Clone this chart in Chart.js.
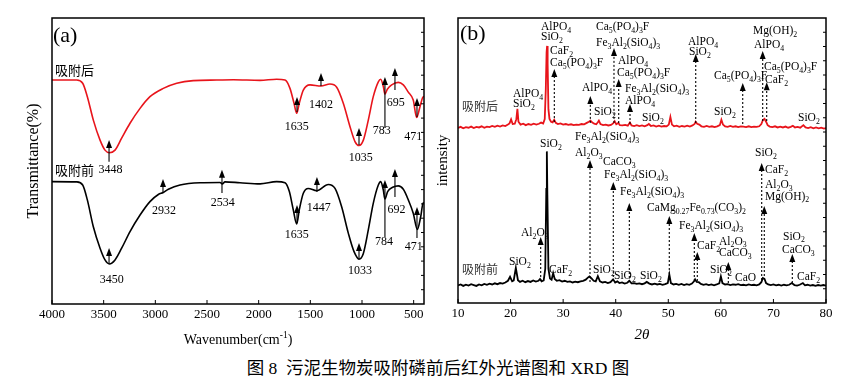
<!DOCTYPE html>
<html><head><meta charset="utf-8">
<script src="https://cdn.jsdelivr.net/npm/chart.js@4.4.1/dist/chart.umd.min.js"></script>
<style>
body{margin:0;background:#fff;width:867px;height:380px;overflow:hidden;position:relative;}
#ca{position:absolute;left:0;top:0;}
#cb{position:absolute;left:430px;top:0;}
#cap{position:absolute;left:0;width:876px;top:357px;text-align:center;font:17.5px "Liberation Serif","Noto Sans CJK SC";color:#000;line-height:22px;}
</style></head><body>
<canvas id="ca" width="440" height="350"></canvas>
<canvas id="cb" width="437" height="350"></canvas>
<div id="cap">图 8&nbsp; 污泥生物炭吸附磷前后红外光谱图和 XRD 图</div>
<script>
// ---------- FTIR (a) ----------
const ftirTicks = [4000,3500,3000,2500,2000,1500,1000,500];
const ftirAfterWn = [4000,3761,3703,3658,3600,3535,3487,3445,3390,3326,3245,3148,3052,2923,2793,2633,2406,2245,1987,1826,1745,1697,1658,1632,1607,1568,1503,1397,1310,1245,1181,1116,1068,1029,987,939,891,842,819,794,778,755,713,649,600,552,504,471,439,413,400];
const ftirAfterT  = [78.3,78.3,77.2,72.5,64.3,57.3,53.8,52.9,53.8,58,63.2,68.4,72.5,75.4,77.2,78.1,78.3,78.4,78.2,78.6,78.3,75.4,70.2,66.7,70.2,74.8,76.6,76.2,76.9,75.8,70.2,62,56.8,55.4,57.3,64.3,72.5,77.7,78.6,76.1,73.4,75.1,76.6,77.5,76.6,74.1,71.3,65.2,69,72.2,72.6];
const ftirBeforeWn = [4000,3761,3703,3658,3600,3535,3487,3445,3390,3326,3245,3148,3052,2971,2923,2874,2761,2568,2374,2352,2326,2181,1987,1826,1745,1703,1665,1632,1607,1568,1520,1439,1326,1261,1197,1132,1077,1029,987,939,891,842,819,794,778,752,703,649,600,552,504,465,432,410,400];
const ftirBeforeT  = [42.8,42.7,41.6,36.4,27,19.5,15.4,14,15.4,19.5,25.3,31.1,35.8,38.3,39,40.1,41.6,42.4,42.5,42,42.7,42.4,42,42.8,42.4,39.3,32.9,28,32.9,38.7,40.4,39.6,41.8,40.4,34,24.7,18.3,15.7,17.7,25.9,35.2,41.6,42.8,39.9,36.7,39.3,40.8,41.3,40.1,36.4,31.7,26.1,30.5,35.2,35.4];
// arrows: [wavenumber, base T, tip T]
const ftirArrowsAfter = [[3448,49.7,57.3],[1629,67.1,72.4],[1397,76.2,80.8],[1029,55.6,61.5],[778,61.5,79.4],[681,74.8,82.5],[468,65.4,72]];
const ftirArrowsBefore = [[3448,14,19.6],[2926,38.8,43.7],[2355,38.8,46.9],[1629,28.3,34.6],[1436,39.2,44.4],[1029,16.1,21.3],[778,23.4,43.4],[681,37.4,47.2],[468,23.1,33.9]];
// labels: [text, wavenumber (centre), T]
const ftirLabelsAfter = [["3448",3434,46.9],["1635",1632,61.9],["1402",1397,69.6],["1035",1013,51.0],["783",810,60.5],["695",673,70.3],["471",504,58.4]];
const ftirLabelsBefore = [["3450",3422,8.4],["2932",2916,32.5],["2534",2348,35.3],["1635",1632,24.1],["1447",1419,33.6],["1033",1019,11.5],["784",787,21.7],["692",665,32.9],["471",499,19.9]];

// ---------- XRD (b) ----------
const xrdTicks = [10,20,30,40,50,60,70,80];
const xrdBefore = [[10,6.2],[10.5,6.5],[11,6.0],[11.5,6.4],[12,6.1],[12.5,6.6],[13,6.3],[13.5,6.0],[14,6.5],[14.5,6.2],[15,6.7],[15.5,6.4],[16,6.8],[16.5,6.5],[17,6.9],[17.5,6.6],[18,7.0],[18.5,6.8],[19,7.2],[19.5,7.8],[19.9,9.2],[20.3,7.6],[20.6,7.9],[21.0,12.3],[21.4,8.0],[21.8,7.4],[22.3,7.8],[22.8,7.3],[23.3,7.7],[23.8,7.4],[24.3,7.9],[24.8,7.5],[25.3,7.8],[25.6,8.4],[25.9,7.6],[26.3,7.9],[26.6,12],[26.8,40],[26.9,53.2],[27.0,38],[27.2,12],[27.5,8.6],[27.8,8.2],[28.1,10.5],[28.4,8.4],[28.8,7.8],[29.3,8.0],[29.8,7.5],[30.3,7.8],[30.8,7.4],[31.3,7.6],[31.8,7.2],[32.3,7.5],[32.8,7.3],[33.3,7.6],[33.8,7.8],[34.3,8.2],[34.7,8.9],[35.0,9.3],[35.4,8.6],[35.8,7.8],[36.2,7.6],[36.6,9.4],[37.0,7.6],[37.5,7.2],[38.0,7.4],[38.5,7.0],[39.0,7.3],[39.5,8.3],[39.9,7.2],[40.3,7.6],[40.7,7.0],[41.2,7.2],[41.7,6.8],[42.2,7.1],[42.6,7.8],[43.0,6.9],[43.5,7.0],[44.0,6.7],[44.5,6.9],[45.0,6.6],[45.5,6.9],[45.9,7.4],[46.4,6.8],[46.9,6.5],[47.4,6.8],[47.9,6.5],[48.4,6.7],[48.9,6.4],[49.4,6.6],[49.9,7.0],[50.2,10.0],[50.5,7.0],[51.0,6.5],[51.5,6.7],[52.0,6.4],[52.5,6.7],[53.0,6.3],[53.5,6.6],[54.0,6.4],[54.5,6.8],[54.9,7.6],[55.1,8.3],[55.4,7.4],[55.8,7.3],[56.2,6.7],[56.7,6.4],[57.2,6.6],[57.7,6.3],[58.2,6.5],[58.7,6.2],[59.2,6.5],[59.7,6.9],[60.0,9.3],[60.3,7.0],[60.8,6.5],[61.3,6.6],[61.8,6.3],[62.3,6.5],[62.8,6.4],[63.3,6.6],[63.8,6.3],[64.3,6.4],[64.8,6.2],[65.3,6.5],[65.8,6.3],[66.3,6.4],[66.8,6.2],[67.3,6.5],[67.7,7.3],[68.0,8.8],[68.3,8.5],[68.6,7.0],[69.0,6.5],[69.5,6.3],[70.0,6.5],[70.5,6.2],[71.0,6.4],[71.5,6.1],[72.0,6.4],[72.5,6.2],[73.0,6.4],[73.5,7.0],[74.0,6.3],[74.5,6.1],[75.0,6.4],[75.6,7.0],[76.0,6.2],[76.5,6.4],[77.0,6.1],[77.5,6.3],[78.0,6.0],[78.5,6.3],[79.0,6.1],[79.5,6.3],[80.0,6.1]];
const xrdAfter = [[10,61.4],[10.5,61.8],[11,61.3],[11.5,61.7],[12,61.5],[12.5,61.9],[13,61.4],[13.5,61.8],[14,61.6],[14.5,62.0],[15,61.5],[15.5,61.9],[16,61.7],[16.5,62.1],[17,61.8],[17.5,62.2],[18,61.9],[18.5,62.3],[19,62.1],[19.5,62.6],[19.8,63.0],[20.1,64.4],[20.4,62.8],[20.8,62.9],[21.1,64.5],[21.3,68.1],[21.5,63.6],[21.9,62.6],[22.4,62.9],[22.9,62.4],[23.4,62.8],[23.9,62.5],[24.4,62.9],[24.9,62.6],[25.4,62.9],[25.8,63.3],[26.2,63.0],[26.5,64.5],[26.7,75],[26.85,88],[26.95,90.2],[27.05,84],[27.2,68],[27.4,64.6],[27.7,63.6],[28.0,63.4],[28.3,64.3],[28.6,63.2],[29.0,62.8],[29.5,63.0],[30.0,62.6],[30.5,62.8],[31.0,62.5],[31.5,62.7],[32.0,62.4],[32.5,62.6],[33.0,62.5],[33.5,62.8],[34.0,62.7],[34.5,63.2],[34.9,63.6],[35.2,64.0],[35.5,63.4],[35.9,62.9],[36.3,62.7],[36.6,63.4],[36.8,64.0],[37.1,62.8],[37.6,62.4],[38.1,62.6],[38.6,62.3],[39.1,62.5],[39.5,63.0],[39.8,63.8],[40.1,62.7],[40.5,63.2],[40.8,62.4],[41.3,62.3],[41.8,62.5],[42.3,62.2],[42.7,63.3],[43.0,62.3],[43.5,62.1],[44.0,62.4],[44.5,62.1],[45.0,62.3],[45.5,62.0],[46.0,62.4],[46.3,62.8],[46.7,62.1],[47.2,62.3],[47.7,61.9],[48.2,62.2],[48.7,61.9],[49.2,62.1],[49.7,62.0],[50.1,62.6],[50.4,65.3],[50.7,62.6],[51.1,62.0],[51.6,62.2],[52.1,61.8],[52.6,62.1],[53.1,61.9],[53.6,62.2],[54.1,61.9],[54.6,62.3],[55.0,62.8],[55.2,63.6],[55.5,62.9],[55.9,62.6],[56.3,62.0],[56.8,61.8],[57.3,62.1],[57.8,61.8],[58.3,62.0],[58.8,61.7],[59.3,62.0],[59.8,62.4],[60.1,64.3],[60.4,62.6],[60.8,62.0],[61.3,61.8],[61.8,62.1],[62.3,61.8],[62.8,62.0],[63.3,61.7],[63.8,62.0],[64.3,61.9],[64.8,61.7],[65.3,62.0],[65.8,61.7],[66.3,61.9],[66.8,61.8],[67.3,62.0],[67.7,62.8],[68.0,64.2],[68.3,64.6],[68.6,63.6],[68.9,62.4],[69.3,61.9],[69.8,61.7],[70.3,62.0],[70.8,61.6],[71.3,61.9],[71.8,61.6],[72.3,61.9],[72.8,61.5],[73.3,61.8],[73.7,62.2],[74.1,61.6],[74.6,61.8],[75.1,61.5],[75.7,62.4],[76.1,61.6],[76.6,61.4],[77.1,61.7],[77.6,61.3],[78.1,61.6],[78.6,61.3],[79.1,61.5],[79.6,61.2],[80.0,61.4]];
// arrows: [2theta, base, tip]
const xrdArrowsAfter = [[28.32,63.5,82.1],[35.17,63.2,72.6],[39.67,63.2,89.5],[40.57,63.2,78.6],[42.72,62.8,69.8],[55.22,63.2,87.4],[64.16,62.8,77.2],[67.96,63.9,88.4],[68.72,63.9,77.5]];
const xrdArrowsBefore = [[25.73,7.7,23.2],[35.11,7.4,50.2],[39.54,7.7,42.5],[42.59,7.4,35.1],[50.19,8.8,30.5],[54.95,7.7,24.6],[55.52,7.7,17.9],[61.42,7,14.4],[67.77,8.1,49.1],[68.26,8.1,34],[73.59,7,17.2]];
// labels: [text (_ = subscript), 2theta (left edge), intensity (middle)]
const xrdLabelsAfter = [["AlPO_4",25.79,96.8],["SiO_2",25.79,93.3],["CaF_2",27.5,88.4],["Ca_5(PO_4)_3F",27.5,84.2],["AlPO_4",20.46,73.3],["SiO_2",20.46,69.8],["AlPO_4",33.59,75.4],["SiO_2",35.87,67.0],["Ca_5(PO_4)_3F",36.25,96.8],["Fe_3Al_2(SiO_4)_3",36.25,91.2],["AlPO_4",40.44,84.9],["Ca_5(PO_4)_3F",40.25,80.7],["Fe_3Al_2(SiO_4)_3",41.77,75.1],["AlPO_4",41.77,70.9],["SiO_2",45.0,64.9],["AlPO_4",53.75,91.6],["SiO_2",53.94,88.1],["SiO_2",58.7,67.0],["Ca_5(PO_4)_3F",58.7,79.6],["Mg(OH)_2",66.12,95.4],["AlPO_4",66.31,90.5],["Ca_5(PO_4)_3F",68.21,82.8],["CaF_2",68.4,78.2],["SiO_2",74.68,64.9]];
const xrdLabelsBefore = [["SiO_2",19.70,14.4],["Al_2O_3",21.98,24.6],["SiO_2",25.60,55.8],["CaF_2",27.31,11.6],["Fe_3Al_2(SiO_4)_3",32.26,58.2],["Al_2O_3",32.26,52.6],["CaCO_3",37.58,49.5],["Fe_3Al_2(SiO_4)_3",37.77,44.9],["Fe_3Al_2(SiO_4)_3",40.82,38.9],["SiO_2",35.68,11.6],["SiO_2",39.67,9.5],["SiO_2",44.62,9.5],["CaMg_0.27Fe_0.73(CO_3)_2",45.95,33.3],["Fe_3Al_2(SiO_4)_3",52.04,27.0],["CaF_2",55.46,20.0],["Al_2O_3",59.65,21.5],["CaCO_3",59.65,17.4],["SiO_2",57.94,11.6],["CaO",62.69,8.9],["SiO_2",66.50,52.6],["CaF_2",68.40,46.7],["Al_2O_3",68.40,41.4],["Mg(OH)_2",68.40,37.3],["SiO_2",71.82,23.3],["CaCO_3",71.63,18.6],["CaF_2",74.49,9.0]];

const RED = '#e8141b', SERIF = '"Liberation Serif","Times New Roman",serif', CJK = '"Noto Sans CJK SC",sans-serif';

function drawRich(ctx, text, x, y, size, align){
  const parts = text.split(/_([0-9.]+)/);
  const fm = size + 'px ' + SERIF, fs = (size*0.68).toFixed(1) + 'px ' + SERIF;
  let w = 0;
  parts.forEach((p,i)=>{ctx.font = i%2?fs:fm; w += ctx.measureText(p).width;});
  let cx = align==='center' ? x - w/2 : x;
  ctx.textAlign='left'; ctx.textBaseline='middle';
  parts.forEach((p,i)=>{ctx.font = i%2?fs:fm; ctx.fillText(p, cx, y + (i%2? size*0.32:0)); cx += ctx.measureText(p).width;});
}
function arrow(ctx, x, yb, yt, dotted){
  ctx.save(); ctx.strokeStyle='#000'; ctx.fillStyle='#000'; ctx.lineWidth=1.1;
  if (dotted) ctx.setLineDash([2,2]);
  ctx.beginPath(); ctx.moveTo(x,yb); ctx.lineTo(x,yt+6); ctx.stroke();
  ctx.setLineDash([]);
  ctx.beginPath(); ctx.moveTo(x,yt); ctx.lineTo(x-3,yt+8); ctx.lineTo(x+3,yt+8); ctx.closePath(); ctx.fill();
  ctx.restore();
}
function frame(ctx, chart){
  const a = chart.chartArea, x = chart.scales.x, y = chart.scales.y;
  ctx.save(); ctx.strokeStyle='#000'; ctx.lineWidth=1.5;
  ctx.strokeRect(a.left, a.top, a.right-a.left, a.bottom-a.top);
  ctx.lineWidth=1;
  ctx.beginPath();
  x.ticks.forEach(t=>{const p=x.getPixelForValue(t.value); ctx.moveTo(p,a.bottom); ctx.lineTo(p,a.bottom-4);});
  for(let v=5; v<100; v+=5){const p=y.getPixelForValue(v); ctx.moveTo(a.right,p); ctx.lineTo(a.right-3,p);}
  ctx.stroke(); ctx.restore();
}

const pluginA = {
  id:'pa',
  afterDatasetsDraw(chart){
    const ctx = chart.ctx, x = chart.scales.x, y = chart.scales.y, a = chart.chartArea;
    ftirArrowsAfter.concat(ftirArrowsBefore).forEach(([w,b,t])=>arrow(ctx,x.getPixelForValue(w),y.getPixelForValue(b),y.getPixelForValue(t),false));
    ctx.save(); ctx.fillStyle='#000';
    ftirLabelsAfter.concat(ftirLabelsBefore).forEach(([s,w,t])=>drawRich(ctx,s,x.getPixelForValue(w),y.getPixelForValue(t),12,'center'));
    ctx.font = '13px ' + CJK; ctx.textAlign='left'; ctx.textBaseline='middle';
    ctx.fillText('吸附后', a.left+3, 70);
    ctx.fillText('吸附前', a.left+3, 170);
    ctx.font = '22px ' + SERIF; ctx.fillText('(a)', a.left+1, 36);
    ctx.restore();
    frame(ctx, chart);
    // axis titles
    ctx.save(); ctx.fillStyle='#000'; ctx.textBaseline='middle';
    const cx = (a.left+a.right)/2;
    ctx.font = '14px ' + SERIF;
    const t1 = 'Wavenumber(cm', t2 = '-1', t3 = ')';
    const w1 = ctx.measureText(t1).width, w3 = ctx.measureText(t3).width;
    ctx.font = '9.5px ' + SERIF; const w2 = ctx.measureText(t2).width;
    let sx = cx - (w1+w2+w3)/2;
    ctx.textAlign='left';
    ctx.font = '14px ' + SERIF; ctx.fillText(t1, sx, 340); sx += w1;
    ctx.font = '9.5px ' + SERIF; ctx.fillText(t2, sx, 335); sx += w2;
    ctx.font = '14px ' + SERIF; ctx.fillText(t3, sx, 340);
    ctx.translate(34, (a.top+a.bottom)/2); ctx.rotate(-Math.PI/2);
    ctx.textAlign='center'; ctx.font='16px ' + SERIF; ctx.fillText('Transmittance(%)', 0, 0);
    ctx.restore();
  }
};
const pluginB = {
  id:'pb',
  afterDatasetsDraw(chart){
    const ctx = chart.ctx, x = chart.scales.x, y = chart.scales.y, a = chart.chartArea;
    xrdArrowsAfter.concat(xrdArrowsBefore).forEach(([v,b,t])=>arrow(ctx,x.getPixelForValue(v),y.getPixelForValue(b),y.getPixelForValue(t),true));
    ctx.save(); ctx.fillStyle='#000';
    xrdLabelsAfter.concat(xrdLabelsBefore).forEach(([s,v,t])=>drawRich(ctx,s,x.getPixelForValue(v),y.getPixelForValue(t),11.5,'left'));
    ctx.fillStyle='#333'; ctx.font = '12px ' + CJK; ctx.textAlign='left'; ctx.textBaseline='middle';
    ctx.fillText('吸附后', a.left+4, 106);
    ctx.fillText('吸附前', a.left+4, 269);
    ctx.fillStyle='#000'; ctx.font = '22px ' + SERIF; ctx.fillText('(b)', a.left+2, 34);
    ctx.restore();
    frame(ctx, chart);
    ctx.save(); ctx.fillStyle='#000'; ctx.textBaseline='middle';
    const cx = (a.left+a.right)/2;
    ctx.font = 'italic 15px ' + SERIF; ctx.textAlign='center';
    ctx.fillText('2\u03B8', cx, 335);
    ctx.translate(13, (a.top+a.bottom)/2); ctx.rotate(-Math.PI/2);
    ctx.font='15px ' + SERIF; ctx.fillText('intensity', 0, 0);
    ctx.restore();
  }
};

function xScale(min,max,ticks,reverse,h){
  return {type:'linear',min:min,max:max,reverse:reverse,
    afterBuildTicks:s=>{s.ticks = ticks.map(v=>({value:v}));},
    afterFit:s=>{s.height=h;},
    grid:{display:false,drawTicks:false}, border:{display:false},
    ticks:{padding:3,color:'#000',font:{family:'Liberation Serif',size:13},maxRotation:0,autoSkip:false,callback:v=>String(v)}};
}
const common = {responsive:false,animation:false,devicePixelRatio:1,
  plugins:{legend:{display:false},tooltip:{enabled:false}},
  elements:{point:{radius:0}}};

new Chart(document.getElementById('ca'),{
  type:'line',
  data:{datasets:[
    {data:ftirAfterWn.map((w,i)=>({x:w,y:ftirAfterT[i]})),borderColor:RED,borderWidth:1.6,cubicInterpolationMode:'monotone',fill:false},
    {data:ftirBeforeWn.map((w,i)=>({x:w,y:ftirBeforeT[i]})),borderColor:'#000',borderWidth:1.6,cubicInterpolationMode:'monotone',fill:false}
  ]},
  options:Object.assign({},common,{
    layout:{padding:{left:52,right:16,top:18,bottom:0}},
    scales:{x:xScale(400,4000,ftirTicks,true,46),y:{min:0,max:100,display:false}}
  }),
  plugins:[pluginA]
});
new Chart(document.getElementById('cb'),{
  type:'line',
  data:{datasets:[
    {data:xrdAfter.map(p=>({x:p[0],y:p[1]})),borderColor:RED,borderWidth:1.8,tension:0,fill:false},
    {data:xrdBefore.map(p=>({x:p[0],y:p[1]})),borderColor:'#000',borderWidth:1.8,tension:0,fill:false}
  ]},
  options:Object.assign({},common,{
    layout:{padding:{left:28,right:41,top:18,bottom:0}},
    scales:{x:xScale(10,80,xrdTicks,false,47),y:{min:0,max:100,display:false}}
  }),
  plugins:[pluginB]
});
</script>
</body></html>
